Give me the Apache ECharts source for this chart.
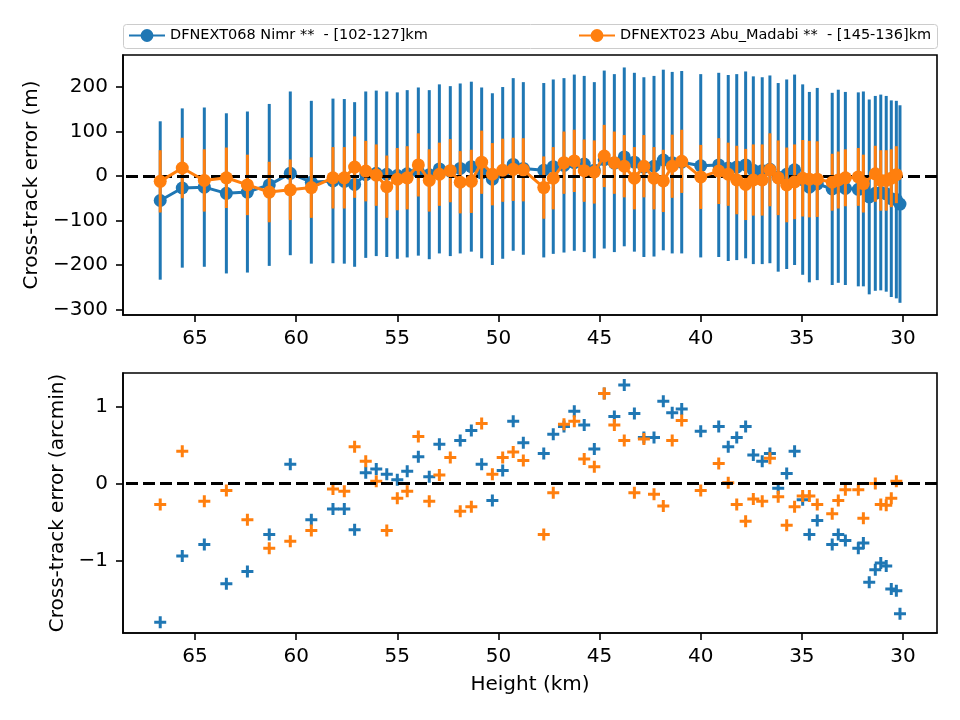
<!DOCTYPE html>
<html>
<head>
<meta charset="utf-8">
<script src="https://cdn.jsdelivr.net/npm/echarts@6/dist/echarts.min.js"></script>
<style>html,body{margin:0;padding:0;background:#fff}#c{width:960px;height:720px}</style>
</head>
<body>
<div id="c"></div>
<script>
// ---- data ----
const heights = [66.72,65.63,64.54,63.45,62.41,61.33,60.29,59.25,58.18,57.62,57.11,56.56,56.04,55.52,55.00,54.51,53.96,53.42,52.92,52.38,51.89,51.34,50.83,50.30,49.79,49.27,48.77,47.76,47.29,46.76,46.25,45.76,45.26,44.77,44.27,43.78,43.28,42.81,42.31,41.85,41.41,40.94,40.00,39.11,38.64,38.22,37.78,37.40,36.96,36.58,36.17,35.75,35.36,34.96,34.63,34.24,33.50,33.20,32.85,32.21,31.96,31.67,31.37,31.10,30.83,30.58,30.33,30.15];

const nimrErrM = [-55,-27,-25,-39,-36,-20,6,-14,-11,-12,-19,3,6,4,1,5,10,3,16,11,17,21,7,-7,7,26,17,13,21,24,30,27,13,37,29,43,31,20,22,36,30,31,23,25,18,20,25,13,12,15,-3,4,14,-8,-25,-18,-29,-23,-28,-30,-29,-47,-39,-37,-40,-51,-53,-63];
const nimrSigM = [178,179,179,180,181,182,184,183,185,185,185,187,186,186,187,188,189,190,190,191,191,191,192,193,193,194,194,196,196,196,198,198,198,200,200,201,201,202,203,203,204,205,206,207,209,209,210,211,210,211,212,213,214,214,214,216,216,217,217,218,219,219,219,220,220,221,222,222];

const abuErrM = [-12,18,-10,-4,-20,-36,-31,-26,-4,-4,20,11,2,-24,-7,-4,25,-10,4,12,-14,-12,31,4,13,15,14,-26,-5,30,34,12,9,45,30,22,-5,22,-5,-11,22,33,-2,11,4,-9,-19,-9,-9,14,-4,-20,-13,-5,-7,-7,-14,-9,-4,-2,-17,null,5,-10,-10,-5,3,null];
const abuSigM = [70,68,70,68,68,68,68,68,69,69,69,68,69,70,70,71,71,70,71,71,70,71,71,70,71,71,71,70,70,70,70,70,71,70,70,70,70,70,70,70,71,71,72,74,71,77,80,80,80,82,84,84,84,86,86,85,64,64,64,65,65,null,63,68,68,65,64,null];

const nimrErrArc = [-1.80,-0.94,-0.79,-1.30,-1.14,-0.66,0.25,-0.47,-0.33,-0.33,-0.60,0.14,0.19,0.12,0.05,0.16,0.35,0.09,0.51,null,0.56,0.69,0.25,-0.22,0.17,0.81,0.53,0.39,0.64,0.74,0.94,0.76,0.45,1.17,0.87,1.28,0.91,0.60,0.60,1.07,0.92,0.97,0.68,0.74,0.48,0.60,0.74,0.37,0.29,0.39,-0.06,0.13,0.42,-0.21,-0.66,-0.48,-0.79,-0.66,-0.74,-0.84,-0.77,-1.28,-1.12,-1.03,-1.07,-1.37,-1.39,-1.69];
const abuErrArc = [-0.27,0.42,-0.23,-0.09,-0.47,-0.84,-0.75,-0.61,-0.07,-0.10,0.48,0.29,0.03,-0.61,-0.19,-0.10,0.61,-0.23,0.11,0.34,-0.36,-0.30,0.78,0.12,0.34,0.41,0.30,-0.66,-0.12,0.77,0.81,0.32,0.22,1.17,0.76,0.56,-0.12,0.58,-0.14,-0.29,0.56,0.82,-0.09,0.26,0.01,-0.27,-0.49,-0.20,-0.23,0.33,-0.17,-0.54,-0.30,-0.16,-0.16,-0.27,-0.39,-0.22,-0.08,-0.08,-0.45,null,0.00,-0.27,-0.28,-0.19,0.03,null];

const seriesNames = ['DFNEXT068 Nimr **  - [102-127]km', 'DFNEXT023 Abu_Madabi **  - [145-136]km'];
const xTicks = [65,60,55,50,45,40,35,30];
const yTopTicks = [-300,-200,-100,0,100,200];
const yBotTicks = [-1,0,1];
const xLabel = 'Height (km)';
const yTopLabel = 'Cross-track error (m)';
const yBotLabel = 'Cross-track error (arcmin)';

// ---- build ----
const BLUE = '#1f77b4', ORANGE = '#ff7f0e';
const FONT = 'DejaVu Sans';
const minus = v => String(v).replace('-', '\u2212');

function errData(vals, sigs) {
  const out = [];
  heights.forEach((h, i) => { if (vals[i] != null && sigs[i] != null) out.push([h, vals[i], sigs[i]]); });
  return out;
}
function lineData(vals) { return heights.map((h, i) => [h, vals[i] == null ? null : vals[i]]); }
function ptData(vals) {
  const out = [];
  heights.forEach((h, i) => { if (vals[i] != null) out.push([h, vals[i]]); });
  return out;
}
function errRender(color) {
  return function (params, api) {
    const x = api.value(0), y = api.value(1), e = api.value(2);
    const p1 = api.coord([x, y - e]), p2 = api.coord([x, y + e]);
    return { type: 'line', shape: { x1: p1[0], y1: p1[1], x2: p2[0], y2: p2[1] },
             style: { stroke: color, lineWidth: 3 } };
  };
}
const plus = 'path://M4.5,0H7.5V4.5H12V7.5H7.5V12H4.5V7.5H0V4.5H4.5Z';

function xAxisDef(gi, withName) {
  return {
    type: 'value', gridIndex: gi, inverse: true, min: 28.32, max: 68.56,
    axisLine: { show: true, onZero: false, lineStyle: { color: '#000', width: 1.6 } },
    axisTick: { show: true, length: 7, customValues: xTicks, lineStyle: { color: '#000', width: 1.6 } },
    axisLabel: { customValues: xTicks, color: '#000', fontSize: 20, fontFamily: FONT, margin: 14, formatter: minus },
    splitLine: { show: false },
    name: withName ? xLabel : '', nameLocation: 'middle', nameGap: 42,
    nameTextStyle: { color: '#000', fontSize: 20, fontFamily: FONT }
  };
}
function yAxisDef(gi, min, max, ticks, name, gap) {
  return {
    type: 'value', gridIndex: gi, min: min, max: max,
    axisLine: { show: true, onZero: false, lineStyle: { color: '#000', width: 1.6 } },
    axisTick: { show: true, length: 7, customValues: ticks, lineStyle: { color: '#000', width: 1.6 } },
    axisLabel: { customValues: ticks, color: '#000', fontSize: 20, fontFamily: FONT, margin: 15, formatter: minus },
    splitLine: { show: false },
    name: name, nameLocation: 'middle', nameGap: gap,
    nameTextStyle: { color: '#000', fontSize: 20, fontFamily: FONT }
  };
}
const zeroLine = {
  silent: true, symbol: 'none', label: { show: false },
  lineStyle: { color: '#000', type: [12, 5], width: 3 },
  data: [{ yAxis: 0 }]
};

const chart = echarts.init(document.getElementById('c'), null, { renderer: 'canvas' });
chart.setOption({
  animation: false,
  backgroundColor: '#fff',
  textStyle: { fontFamily: FONT },
  grid: [
    { left: 123, right: 23, top: 55, height: 260, containLabel: false, outerBoundsMode: 'none',
      show: true, borderColor: '#000', borderWidth: 1.6, backgroundColor: 'transparent' },
    { left: 123, right: 23, top: 373, height: 260, containLabel: false, outerBoundsMode: 'none',
      show: true, borderColor: '#000', borderWidth: 1.6, backgroundColor: 'transparent' }
  ],
  xAxis: [xAxisDef(0, false), xAxisDef(1, true)],
  yAxis: [
    yAxisDef(0, -312.4, 272, yTopTicks, yTopLabel, 81),
    yAxisDef(1, -1.94, 1.436, yBotTicks, yBotLabel, 53)
  ],
  graphic: [{
    type: 'rect', left: 123, top: 24, z: -1,
    shape: { width: 814, height: 24, r: 3 },
    style: { fill: '#fff', stroke: '#cccccc', lineWidth: 1 }
  }],
  legend: [
    { data: [seriesNames[0]], left: 128, top: 28, itemWidth: 36, itemHeight: 16, padding: 0,
      textStyle: { fontSize: 14.5, color: '#000', fontFamily: FONT } },
    { data: [seriesNames[1]], left: 578, top: 28, itemWidth: 36, itemHeight: 16, padding: 0,
      textStyle: { fontSize: 14.5, color: '#000', fontFamily: FONT } }
  ],
  series: [
    { type: 'custom', name: 'nimrBars', xAxisIndex: 0, yAxisIndex: 0, z: 2, clip: false,
      renderItem: errRender(BLUE), encode: { x: 0, y: 1 }, data: errData(nimrErrM, nimrSigM),
      markLine: zeroLine },
    { type: 'line', name: seriesNames[0], xAxisIndex: 0, yAxisIndex: 0, z: 3,
      data: lineData(nimrErrM), connectNulls: true, color: BLUE,
      symbol: 'circle', symbolSize: 13, showAllSymbol: true,
      lineStyle: { color: BLUE, width: 3 }, itemStyle: { color: BLUE, opacity: 1 } },
    { type: 'custom', name: 'abuBars', xAxisIndex: 0, yAxisIndex: 0, z: 4, clip: false,
      renderItem: errRender(ORANGE), encode: { x: 0, y: 1 }, data: errData(abuErrM, abuSigM) },
    { type: 'line', name: seriesNames[1], xAxisIndex: 0, yAxisIndex: 0, z: 5,
      data: lineData(abuErrM), connectNulls: true, color: ORANGE,
      symbol: 'circle', symbolSize: 13, showAllSymbol: true,
      lineStyle: { color: ORANGE, width: 3 }, itemStyle: { color: ORANGE, opacity: 1 } },
    { type: 'scatter', name: 'nimrArc', xAxisIndex: 1, yAxisIndex: 1, z: 3,
      data: ptData(nimrErrArc), symbol: plus, symbolSize: 12, itemStyle: { color: BLUE, opacity: 1 },
      markLine: zeroLine },
    { type: 'scatter', name: 'abuArc', xAxisIndex: 1, yAxisIndex: 1, z: 4,
      data: ptData(abuErrArc), symbol: plus, symbolSize: 12, itemStyle: { color: ORANGE, opacity: 1 } }
  ]
});
</script>
</body>
</html>
